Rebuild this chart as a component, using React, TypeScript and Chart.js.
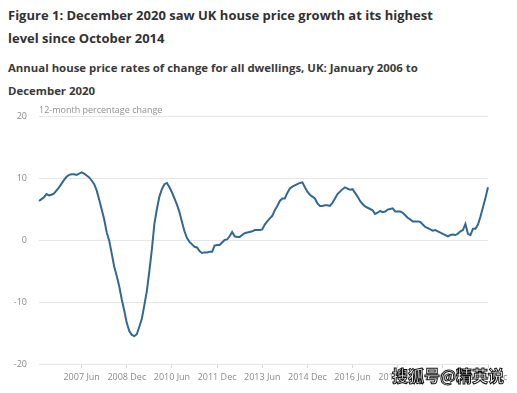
import React, { useEffect, useRef } from "react";
import { Chart, registerables } from "chart.js";

Chart.register(...registerables);

const years = [2006, 2007, 2008, 2009, 2010, 2011, 2012, 2013, 2014, 2015, 2016, 2017, 2018, 2019, 2020];
const monthNames = ["Jan", "Feb", "Mar", "Apr", "May", "Jun", "Jul", "Aug", "Sep", "Oct", "Nov", "Dec"];
const tickLabels = ["2007 Jun", "2008 Dec", "2010 Jun", "2011 Dec", "2013 Jun", "2014 Dec", "2016 Jun", "2017 Dec", "2019 Jun", "2020 Dec"];
const yTicks = [20, 10, 0, -10, -20];

// Annual % change, Jan 2006 .. Dec 2020
const values2006 = [6.3, 6.6, 6.9, 7.4, 7.2, 7.3, 7.5, 8.0, 8.5, 9.1, 9.7, 10.2];
const values2007 = [10.5, 10.6, 10.6, 10.5, 10.7, 10.9, 10.7, 10.4, 10.1, 9.6, 9.0, 8.0];
const values2008 = [6.5, 4.9, 3.3, 1.2, -0.1, -2.2, -4.3, -5.8, -7.5, -9.6, -11.4, -13.4];
const values2009 = [-14.7, -15.3, -15.5, -15.2, -14.0, -12.7, -10.5, -8.2, -5.0, -1.5, 2.6, 5.0];
const values2010 = [7.0, 8.2, 9.0, 9.2, 8.5, 7.7, 6.7, 5.7, 4.5, 2.9, 1.4, 0.3];
const values2011 = [-0.3, -0.7, -1.1, -1.2, -1.8, -2.1, -2.0, -2.0, -1.9, -1.9, -0.9, -0.8];
const values2012 = [-0.8, -0.4, 0.0, 0.1, 0.6, 1.3, 0.6, 0.5, 0.5, 0.8, 1.1, 1.2];
const values2013 = [1.3, 1.4, 1.6, 1.6, 1.6, 1.7, 2.5, 3.0, 3.5, 3.9, 4.8, 5.5];
const values2014 = [6.3, 6.7, 6.7, 7.6, 8.3, 8.6, 8.8, 9.0, 9.2, 9.3, 8.5, 7.8];
const values2015 = [7.3, 7.0, 6.7, 5.9, 5.5, 5.5, 5.6, 5.6, 5.5, 6.0, 6.7, 7.4];
const values2016 = [7.8, 8.2, 8.5, 8.3, 8.1, 8.2, 7.6, 7.0, 6.3, 5.8, 5.4, 5.2];
const values2017 = [5.0, 4.8, 4.2, 4.4, 4.7, 4.5, 4.6, 4.9, 5.0, 5.1, 4.6, 4.6];
const values2018 = [4.6, 4.4, 4.0, 3.6, 3.3, 3.0, 3.0, 3.0, 2.9, 2.5, 2.1, 1.9];
const values2019 = [1.7, 1.5, 1.6, 1.4, 1.2, 1.0, 0.8, 0.6, 0.8, 0.9, 0.8, 1.0];
const values2020 = [1.4, 1.6, 2.6, 1.0, 0.8, 1.8, 1.8, 2.5, 3.8, 5.3, 6.8, 8.5];

const series = [
  ...values2006, ...values2007, ...values2008, ...values2009, ...values2010,
  ...values2011, ...values2012, ...values2013, ...values2014, ...values2015,
  ...values2016, ...values2017, ...values2018, ...values2019, ...values2020,
];

const categories: string[] = [];
years.forEach((y) => monthNames.forEach((m) => categories.push(`${y} ${m}`)));

const FONT = "'Open Sans', sans-serif";

export default function App() {
  const ref = useRef<HTMLCanvasElement | null>(null);

  useEffect(() => {
    if (!ref.current) return;
    const chart = new Chart(ref.current, {
      type: "line",
      data: {
        labels: categories,
        datasets: [
          {
            data: series,
            borderColor: "#336892",
            borderWidth: 2,
            pointRadius: 0,
            tension: 0,
            fill: false,
          },
        ],
      },
      options: {
        animation: false,
        responsive: false,
        maintainAspectRatio: false,
        layout: { padding: { top: 116, left: 0, right: 29, bottom: 0 } },
        plugins: { legend: { display: false }, tooltip: { enabled: false } },
        scales: {
          x: {
            type: "category",
            offset: false,
            afterFit: (s: any) => { s.height = 29; },
            grid: {
              drawOnChartArea: false,
              drawTicks: true,
              tickLength: 4,
              color: "#d6d6d6",
            },
            border: { display: false },
            ticks: {
              autoSkip: false,
              maxRotation: 0,
              minRotation: 0,
              padding: 4,
              color: "#8a8a8a",
              font: { family: FONT, size: 9 },
              callback: (_v: any, i: number) => (tickLabels.includes(categories[i]) ? categories[i] : null),
            },
          },
          y: {
            min: -20,
            max: 20,
            afterFit: (s: any) => { s.width = 39; },
            afterBuildTicks: (s: any) => { s.ticks = yTicks.map((v) => ({ value: v })); },
            grid: { color: "#e6e6e6", drawTicks: false, lineWidth: 1 },
            border: { display: false },
            ticks: {
              padding: 12,
              color: "#8a8a8a",
              font: { family: FONT, size: 9 },
            },
          },
        },
      },
    });
    return () => chart.destroy();
  }, []);

  return (
    <div style={{ position: "fixed", left: 0, top: 0, width: 517, height: 393, background: "#fff", overflow: "hidden", fontFamily: FONT }}>
      <div style={{ position: "absolute", left: 8, top: 4, fontSize: 13, fontWeight: 700, color: "#323132", lineHeight: "23px", whiteSpace: "nowrap" }}>
        Figure 1: December 2020 saw UK house price growth at its highest
        <br />
        level since October 2014
      </div>
      <div style={{ position: "absolute", left: 8, top: 56, fontSize: 11.4, fontWeight: 700, color: "#3a3a3a", lineHeight: "23px", whiteSpace: "nowrap" }}>
        Annual house price rates of change for all dwellings, UK: January 2006 to
        <br />
        December 2020
      </div>
      <canvas ref={ref} width={517} height={393} style={{ position: "absolute", left: 0, top: 0, width: 517, height: 393 }} />
      <div style={{ position: "absolute", left: 39, top: 103, fontSize: 9, color: "#909090", whiteSpace: "nowrap" }}>
        12-month percentage change
      </div>
      <div
        style={{
          position: "absolute",
          left: 392,
          top: 365,
          fontSize: 16,
          fontWeight: 700,
          fontFamily: "'Noto Sans CJK SC', sans-serif",
          color: "#fff",
          WebkitTextStroke: "1px #111",
          whiteSpace: "nowrap",
          lineHeight: "20px",
        }}
      >
        搜狐号@精英说
      </div>
    </div>
  );
}
